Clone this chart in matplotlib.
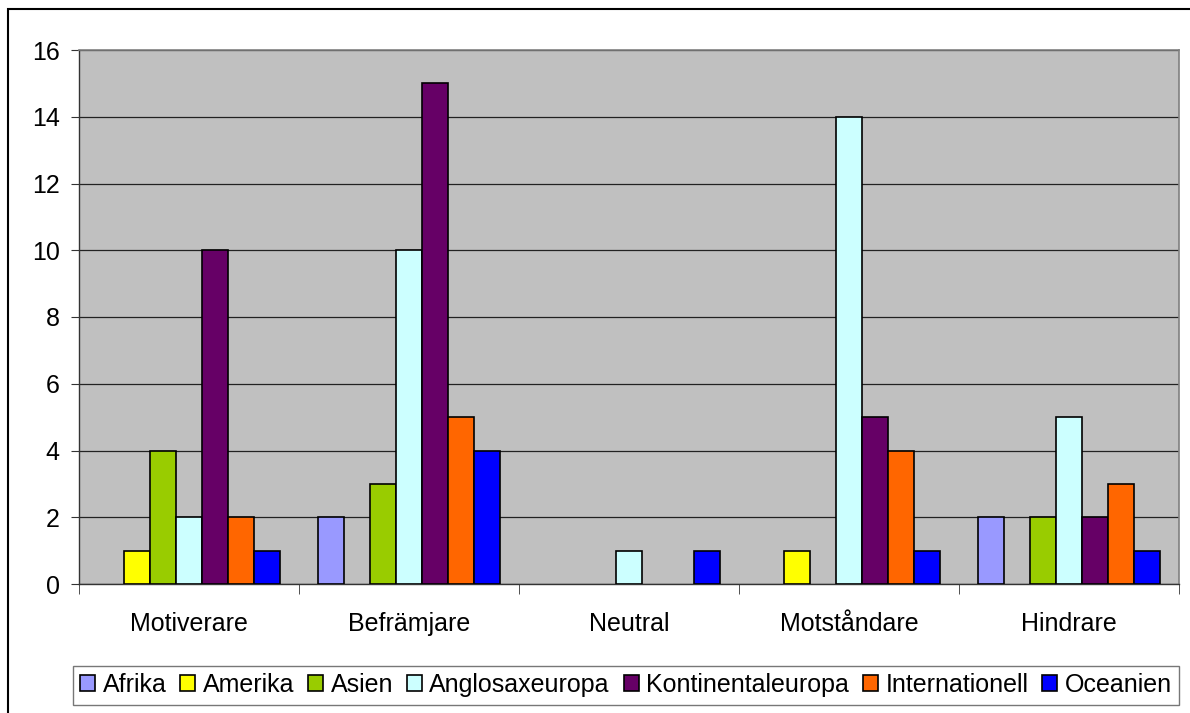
import matplotlib
matplotlib.use("Agg")
import matplotlib.pyplot as plt
import numpy as np

plt.rcParams['font.family'] = ['Liberation Sans', 'DejaVu Sans']

categories = ["Motiverare", "Befrämjare", "Neutral", "Motståndare", "Hindrare"]
regions = ["Afrika", "Amerika", "Asien", "Anglosaxeuropa", "Kontinentaleuropa",
           "Internationell", "Oceanien"]
afrika = [0, 2, 0, 0, 2]
amerika = [1, 0, 0, 1, 0]
asien = [4, 3, 0, 0, 2]
anglosaxeuropa = [2, 10, 1, 14, 5]
kontinentaleuropa = [10, 15, 0, 5, 2]
internationell = [2, 5, 0, 4, 3]
oceanien = [1, 4, 1, 1, 1]
series = [afrika, amerika, asien, anglosaxeuropa, kontinentaleuropa,
          internationell, oceanien]
colors = ["#9999FF", "#FFFF00", "#99CC00", "#CCFFFF", "#660066", "#FF6600", "#0000FF"]

W, H = 1190, 713
fig = plt.figure(figsize=(W / 100, H / 100), dpi=100)
# outer chart border (right and bottom edges fall outside the canvas)
fig.patches.append(plt.Rectangle((8 / W, -0.05), 1.1, 1.05 - 9 / H,
                                 transform=fig.transFigure, fill=False,
                                 edgecolor="black", linewidth=1.5))

ax = fig.add_axes([79 / W, 1 - 584 / H, 1100 / W, 534 / H])
ax.set_facecolor("#C0C0C0")

x = np.arange(len(categories))
bw = 0.118
n = len(series)
for i, (vals, col, name) in enumerate(zip(series, colors, regions)):
    offs = (i - (n - 1) / 2) * bw
    heights = np.array(vals, dtype=float)
    heights[heights == 0] = np.nan  # empty cells are not drawn
    ax.bar(x + offs, heights, width=bw, color=col, edgecolor="black",
           linewidth=1.2, label=name, zorder=3)

ax.set_xlim(-0.5, len(categories) - 0.5)
ax.set_ylim(0, 16)
ax.set_yticks(range(0, 17, 2))
ax.yaxis.grid(True, color="#222222", linewidth=0.9, zorder=0)
ax.set_axisbelow(True)

ax.set_xticks(x)
ax.set_xticklabels(categories, fontsize=18)
ax.tick_params(axis="x", length=0, pad=20)
ax.set_xticks(np.arange(-0.5, len(categories), 1), minor=True)
ax.tick_params(axis="x", which="minor", length=7, direction="out", color="#333333")
ax.tick_params(axis="y", labelsize=18, length=6, direction="out", color="#333333", pad=8)

for s in ["top", "right"]:
    ax.spines[s].set_color("#808080")
    ax.spines[s].set_linewidth(1.2)
for s in ["left", "bottom"]:
    ax.spines[s].set_color("#333333")
    ax.spines[s].set_linewidth(1.0)

leg = fig.legend(loc="center", bbox_to_anchor=(626 / W, 1 - 685 / H), ncol=7,
                 fontsize=18, frameon=True, fancybox=False, edgecolor="#555555",
                 handlelength=0.6, handleheight=0.6, handletextpad=0.3,
                 columnspacing=0.55, borderpad=0.3)
leg.get_frame().set_linewidth(1.0)

fig.savefig("out.png", dpi=100)
